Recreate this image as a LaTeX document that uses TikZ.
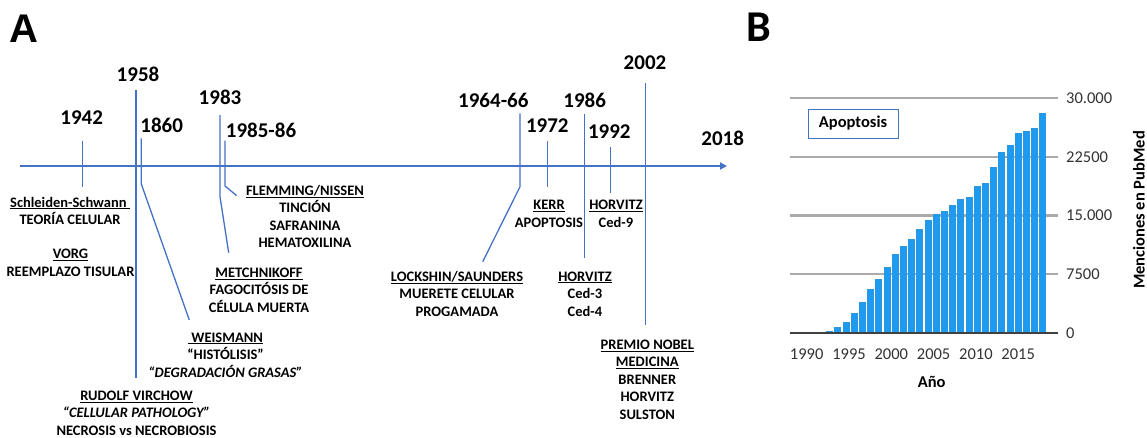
\documentclass[tikz,border=0pt]{standalone}
\usepackage{fontspec}
\setmainfont{Carlito}
\newfontfamily\panelfont{Liberation Sans}
\usepackage{tikz}
\usetikzlibrary{arrows.meta}
\definecolor{tlblue}{RGB}{68,114,196}
\definecolor{barblue}{RGB}{29,155,240}
\definecolor{gridgray}{RGB}{170,170,170}
\newcommand{\yrfont}{\fontsize{21}{24}\selectfont\bfseries}
\newcommand{\evfont}{\fontsize{14.5}{17.5}\selectfont\bfseries}
\newcommand{\axfont}{\fontsize{16.5}{19}\selectfont}

\begin{document}
\begin{tikzpicture}[x=1pt,y=-1pt,
  tl/.style={tlblue,line width=1.3pt},
  yr/.style={font=\yrfont,inner sep=0pt},
  ev/.style={font=\evfont,align=center,inner sep=0pt},
  gridln/.style={gridgray,line width=2.2pt},
  bar/.style={fill=barblue,draw=barblue!85!gray,line width=0.4pt}]
  \useasboundingbox (0,0) rectangle (1147,437);
  % panel letters
  \node[font=\panelfont\bfseries\fontsize{40}{40}\selectfont,inner sep=0pt] (pa) at (24,28.3) {A};
  \node[font=\bfseries\fontsize{44}{44}\selectfont,inner sep=0pt] (pb) at (759,27.5) {B};

  % time axis
  \coordinate (ax0) at (20,166);
  \coordinate (ax1) at (727,166);
  \draw[tl,line width=2pt,-{Triangle[length=7pt,width=7pt]}] (ax0) -- (ax1);
  % straight ticks
  \foreach \x/\ya/\yb in {82.3/140.7/186.7, 136/90/377.7, 547.3/140.7/186.7,
                          584.7/114/258.3, 610.7/147.3/192.7, 645.7/83.3/325}
    \draw[tl] (\x,\ya) -- (\x,\yb);
  % bent ticks
  \coordinate (b1860) at (141.3,184);
  \coordinate (e1860) at (189.3,320);
  \draw[tl] (141.3,138.3) -- (b1860) -- (e1860);
  \coordinate (b1983) at (220,196.7);
  \coordinate (e1983) at (228.7,252.7);
  \draw[tl] (220,115) -- (b1983) -- (e1983);
  \coordinate (b1985) at (225,186);
  \coordinate (e1985) at (236.7,195.7);
  \draw[tl] (225,140.7) -- (b1985) -- (e1985);
  \coordinate (b1964) at (520,186.7);
  \coordinate (e1964) at (482.7,261.7);
  \draw[tl] (520,113.3) -- (b1964) -- (e1964);

  % years
  \foreach \x/\y/\n/\t in {81.7/118/y42/1942, 138/74/y58/1958, 161.7/125/y60/1860,
      220/97.3/y83/1983, 261/130/y85/1985-86, 493.3/100/y64/1964-66,
      547.3/126/y72/1972, 584.7/100.7/y86/1986, 609.3/131.7/y92/1992,
      645/62.7/y02/2002, 722.7/138.3/y18/2018}
    \node[yr] (\n) at (\x,\y) {\t};

  % events
  \node[ev] (schleiden) at (70,210.8) {\underline{Schleiden-Schwann }\\TEORÍA CELULAR};
  \node[ev] (vorg) at (70.5,263) {\underline{VORG}\\REEMPLAZO TISULAR};
  \node[ev] (flemming) at (305,216.3) {\underline{FLEMMING/NISSEN}\\TINCIÓN\\SAFRANINA\\HEMATOXILINA};
  \node[ev] (metch) at (259,290) {\underline{METCHNIKOFF}\\FAGOCITÓSIS DE\\CÉLULA MUERTA};
  \node[ev] (weis) at (225.5,354.8) {\underline{ WEISMANN}\\“HISTÓLISIS”\\\textit{“DEGRADACIÓN GRASAS”}};
  \node[ev] (virchow) at (136.5,413) {\underline{RUDOLF VIRCHOW}\\\textit{“CELLULAR PATHOLOGY”}\\NECROSIS vs NECROBIOSIS};
  \node[ev] (kerr) at (549,213.8) {\underline{KERR}\\APOPTOSIS};
  \node[ev] (hced9) at (616,213.8) {\underline{HORVITZ}\\Ced-9};
  \node[ev] (lock) at (457,293.8) {\underline{LOCKSHIN/SAUNDERS}\\MUERETE CELULAR\\PROGAMADA};
  \node[ev] (hced34) at (585,293.8) {\underline{HORVITZ}\\Ced-3\\Ced-4};
  \node[ev] (nobel) at (647.3,379.5) {\underline{PREMIO NOBEL}\\\underline{MEDICINA}\\BRENNER\\HORVITZ\\SULSTON};

  % chart grid
  \foreach \t [count=\k from 0] in {0,7500,15.000,22500,30.000} {
    \draw[gridln] (790,{332.7-58.6*\k}) -- (1058,{332.7-58.6*\k});
    \node[font=\axfont,text=black!80,anchor=west,inner sep=0pt] (tk\k) at (1066,{332.7-58.6*\k}) {\t};
  }
  % bars (approx values, thousands)
  \foreach \v [count=\i from 0] in {0.256,0.77,1.41,2.48,3.85,5.56,6.92,8.38,10.09,
      11.12,11.97,13.26,14.45,15.18,15.64,16.37,17.14,17.36,18.72,19.23,
      21.2,23.08,24.06,25.56,25.77,26.28,28.13}
    \draw[bar] ({829.3+8.2*\i-3},332.7) rectangle ({829.3+8.2*\i+3},{332.7-7.8*\v});
  \draw[black!75,line width=2pt] (790,332.7) -- (1058,332.7);
  % year labels
  \foreach \yy [count=\k from 0] in {1990,1995,2000,2005,2010,2015}
    \node[font=\axfont,text=black!80,inner sep=0pt] (yl\k) at ({806.7+42.3*\k},354) {\yy};
  \node[font=\axfont\bfseries,inner sep=0pt] (xlab) at (931.7,382) {Año};
  \node[font=\axfont\bfseries,rotate=90,inner sep=0pt] (ylab) at (1139,210) {Menciones en PubMed};
  % legend box
  \node[draw=tlblue,line width=0.9pt,font=\axfont\bfseries,minimum width=90pt,minimum height=29pt,inner sep=0pt] (leg) at (853,123.5) {Apoptosis};
\end{tikzpicture}
\end{document}
